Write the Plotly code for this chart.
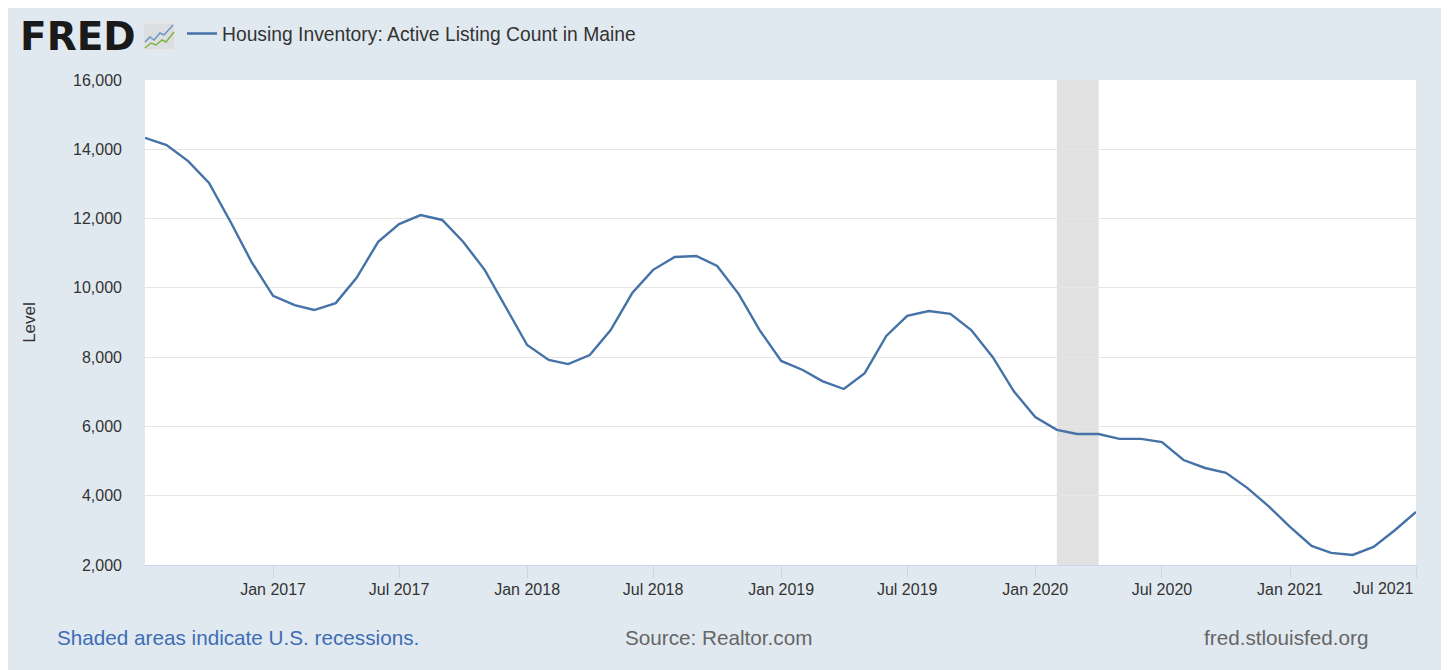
import pandas as pd
import plotly.graph_objects as go

# ---- data ----
start_month = "2016-07-01"
listing_count = [
    14330, 14120, 13660, 13030, 11900, 10750,   # Jul-Dec 2016
    9770, 9500, 9360, 9560, 10290, 11330,       # Jan-Jun 2017
    11840, 12100, 11960, 11330, 10520, 9450,    # Jul-Dec 2017
    8350, 7920, 7800, 8060, 8780, 9850,         # Jan-Jun 2018
    10520, 10890, 10920, 10630, 9820, 8780,     # Jul-Dec 2018
    7890, 7630, 7310, 7080, 7540, 8610,         # Jan-Jun 2019
    9190, 9330, 9250, 8780, 8000, 7020,         # Jul-Dec 2019
    6270, 5900, 5780, 5780, 5640, 5640,         # Jan-Jun 2020
    5550, 5030, 4800, 4660, 4220, 3700,         # Jul-Dec 2020
    3100, 2550, 2350, 2290, 2520, 3010,         # Jan-Jun 2021
    3530,                                       # Jul 2021
]
dates = pd.date_range(start_month, periods=len(listing_count), freq="MS")
recession_start = "2020-02-01"
recession_end = "2020-04-01"
series_name = "Housing Inventory: Active Listing Count in Maine"
y_ticks = [2000, 4000, 6000, 8000, 10000, 12000, 14000, 16000]
x_tick_dates = pd.to_datetime([
    "2017-01-01", "2017-07-01", "2018-01-01", "2018-07-01", "2019-01-01",
    "2019-07-01", "2020-01-01", "2020-07-01", "2021-01-01", "2021-07-01",
])
x_tick_text = [d.strftime("%b %Y") for d in x_tick_dates]

# ---- layout geometry ----
# the page body adds an 8px margin, so the figure is 8px smaller than the window
OFF = 8
W, H = 1449 - OFF, 670 - OFF
L, R, T, B = 137, 33, 72, 105
PW, PH = W - L - R, H - T - B


def px(x):  # reference-picture pixel -> paper x
    return (x - OFF - L) / PW


def py(y):  # reference-picture pixel -> paper y
    return (H - B - (y - OFF)) / PH


FONT = "Liberation Sans, Arial, sans-serif"
BG = "#E1E9F0"

fig = go.Figure()
fig.add_trace(go.Scatter(
    x=dates, y=listing_count, mode="lines", name=series_name,
    line=dict(color="#4572A7", width=2.4),
))

shapes = [
    # recession shading
    dict(type="rect", xref="x", yref="paper", x0=recession_start, x1=recession_end,
         y0=0, y1=1, fillcolor="#E1E1E1", line=dict(width=0), layer="between"),
    # FRED icon
    dict(type="rect", xref="paper", yref="paper", x0=px(143), x1=px(175),
         y0=py(50), y1=py(23), fillcolor="#DDDEE0", line=dict(color="#E9EAEC", width=1)),
]


def path(points):
    return "M " + " L ".join(f"{px(a):.5f},{py(b):.5f}" for a, b in points)


shapes.append(dict(type="path", xref="paper", yref="paper",
                   path=path([(145, 42), (150, 37), (154, 40), (160, 33), (164, 35), (173, 25)]),
                   line=dict(color="#6A98C8", width=1.5)))
shapes.append(dict(type="path", xref="paper", yref="paper",
                   path=path([(145, 48), (151, 43), (156, 45), (162, 40), (166, 42), (174, 32)]),
                   line=dict(color="#7DB544", width=1.5)))

annotations = [
    dict(text="<b>FRED</b>", x=px(18), y=py(36), xref="paper", yref="paper",
         xanchor="left", yanchor="middle", showarrow=False,
         font=dict(family="DejaVu Sans, sans-serif", size=39, color="#1A1A1A")),
    dict(text="Shaded areas indicate U.S. recessions.", x=px(55), y=py(637),
         xref="paper", yref="paper", xanchor="left", yanchor="middle", showarrow=False,
         font=dict(family=FONT, size=20.7, color="#3E6DB5")),
    dict(text="Source: Realtor.com", x=px(718), y=py(637),
         xref="paper", yref="paper", xanchor="center", yanchor="middle", showarrow=False,
         font=dict(family=FONT, size=20.7, color="#666666")),
    dict(text="fred.stlouisfed.org", x=px(1370), y=py(637),
         xref="paper", yref="paper", xanchor="right", yanchor="middle", showarrow=False,
         font=dict(family=FONT, size=20.7, color="#666666")),
    # last x tick label, kept inside the panel like the original
    dict(text=x_tick_text[-1], x=1, y=py(588), xref="paper", yref="paper",
         xanchor="right", yanchor="middle", showarrow=False,
         font=dict(family=FONT, size=16, color="#333333")),
]

fig.update_layout(
    width=W, height=H,
    margin=dict(l=L, r=R, t=T, b=B, autoexpand=False),
    paper_bgcolor=BG,
    plot_bgcolor="#FFFFFF",
    font=dict(family=FONT, color="#333333"),
    showlegend=True,
    legend=dict(x=px(182), y=py(34), xanchor="left", yanchor="middle",
                bgcolor="rgba(0,0,0,0)", font=dict(family=FONT, size=19.3, color="#333333"),
                itemwidth=30),
    shapes=shapes,
    annotations=annotations,
    xaxis=dict(
        type="date", range=[dates[0], dates[-1]],
        tickvals=x_tick_dates, ticktext=x_tick_text[:-1] + [""],
        ticks="outside", ticklen=12, tickcolor="#CCD6EB", tickwidth=1,
        ticklabelstandoff=-2,
        showline=True, linecolor="#CCD6EB", linewidth=1,
        showgrid=False, zeroline=False,
        tickfont=dict(family=FONT, size=16, color="#333333"),
    ),
    yaxis=dict(
        range=[2000, 16000], tickvals=y_ticks, tickformat=",",
        showgrid=True, gridcolor="#E6E6E6", gridwidth=1,
        zeroline=False, showline=False, ticks="", ticklabelstandoff=22,
        tickfont=dict(family=FONT, size=16, color="#333333"),
        title=dict(text="Level", standoff=33,
                   font=dict(family=FONT, size=17, color="#333333")),
    ),
)

fig.write_html("out.html")
